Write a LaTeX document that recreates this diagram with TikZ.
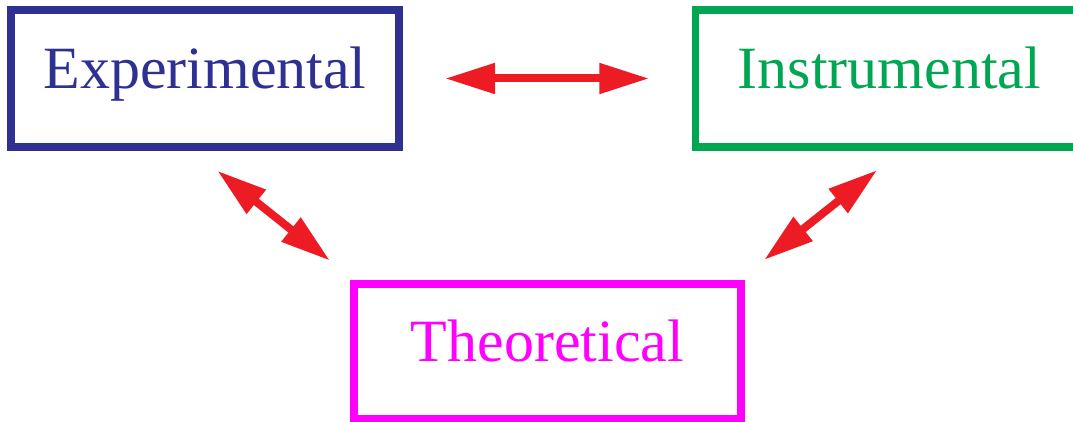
\documentclass[tikz,border=0pt]{standalone}
\usepackage{fontspec}
\setmainfont{Liberation Serif}
\usetikzlibrary{arrows.meta}
\definecolor{expblue}{HTML}{2E3192}
\definecolor{insgreen}{HTML}{00A651}
\definecolor{theomag}{HTML}{FF00FF}
\definecolor{arrred}{HTML}{ED1C24}
\tikzset{
  box/.style={draw, line width=7.7pt, minimum width=388pt, minimum height=137pt,
    inner sep=0pt, outer sep=0pt, text height=42pt, text depth=22pt,
    font=\fontsize{60}{72}\selectfont},
  link/.style={draw=arrred, line width=8pt,
    {Triangle[length=50pt,width=29pt]}-{Triangle[length=50pt,width=29pt]}}
}
\begin{document}
\begin{tikzpicture}[x=1pt,y=-1pt]
\clip (0,0) rectangle (1073,422);
\node[box, draw=expblue, text=expblue] (exp) at (205,78.5) {Experimental};
\node[box, draw=insgreen, text=insgreen] (ins) at (889.5,78.5) {Instrumental};
\node[box, draw=theomag, text=theomag, minimum width=387pt, minimum height=135pt] (theo) at (547.4,351.3) {Theoretical};
\coordinate (h1) at (445,78.5);
\coordinate (h2) at (649.3,78.5);
\coordinate (l1) at (217.3,170.7);
\coordinate (l2) at (330,260.7);
\coordinate (r1) at (877.3,170);
\coordinate (r2) at (764,260);
\draw[link] (h1) -- (h2);
\draw[link] (l1) -- (l2);
\draw[link] (r1) -- (r2);
\end{tikzpicture}
\end{document}
